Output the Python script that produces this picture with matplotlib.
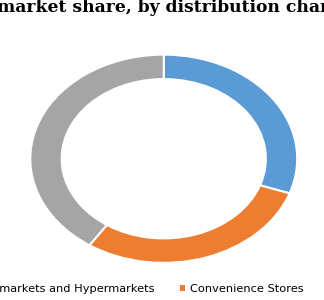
import matplotlib.pyplot as plt

channels = ['Supermarkets and Hypermarkets', 'Convenience Stores', 'Others']
shares = [30.4, 29.0, 40.6]
colors = ['#5B9BD5', '#ED7D31', '#A5A5A5']
title = 'market share, by distribution channel'

W, H = 324, 300
fig = plt.figure(figsize=(W / 100, H / 100), dpi=100)

# donut drawn on a stretched axes (the picture is wider than tall)
ax = fig.add_axes([29.5 / W, 1 - 263.5 / H, 268.5 / W, 209.5 / H])
wedges, _ = ax.pie(shares, colors=colors, startangle=90, counterclock=False,
                   wedgeprops=dict(width=0.235, edgecolor='white', linewidth=1.5))
ax.set_aspect('auto')
ax.set_xlim(-1.006, 1.006)
ax.set_ylim(-1.006, 1.006)
ax.axis('off')

fig.text(-3 / W, 1 - 12.5 / H, title, fontsize=12.3, fontweight='bold',
         family='DejaVu Serif', va='baseline', ha='left')

fs = 8.2
fs_px = fs * 100 / 72
leg = fig.legend(wedges, channels, loc='lower left', bbox_to_anchor=(0, 0),
                 ncol=3, frameon=False, fontsize=fs, handlelength=0.42,
                 handleheight=0.42, handletextpad=0.45,
                 columnspacing=26 / fs_px, borderpad=0, borderaxespad=0)
for h in leg.legend_handles:
    h.set_edgecolor('none')

# shift legend so "Convenience Stores" starts at x=190 px, baseline near y=292 px
fig.canvas.draw()
r = fig.canvas.get_renderer()
bb = leg.get_texts()[1].get_window_extent(r)
lb = leg.get_window_extent(r)
dx = 190 - bb.x0
dy = (H - 294) - bb.y0
leg.set_bbox_to_anchor(((lb.x0 + dx) / W, (lb.y0 + dy) / H), transform=fig.transFigure)

fig.savefig('out.png', dpi=100)
